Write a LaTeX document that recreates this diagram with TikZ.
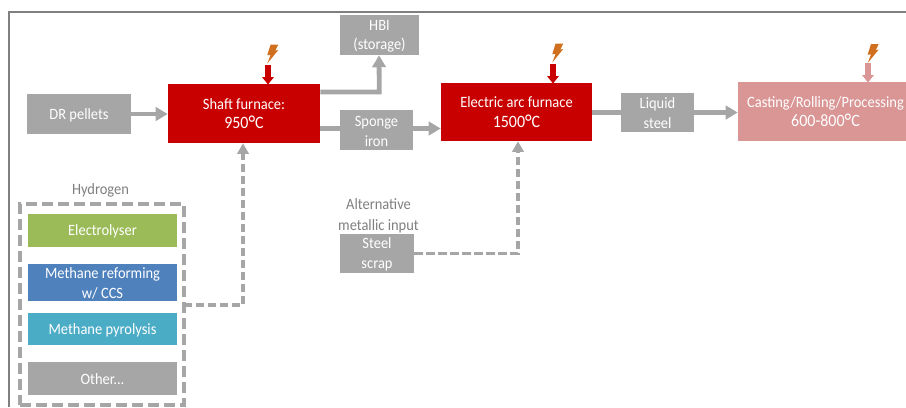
\documentclass[tikz,border=0pt]{standalone}
\usepackage{fontspec}
\setmainfont[FakeStretch=0.92]{Carlito}
\usetikzlibrary{arrows.meta,calc}
\definecolor{grayb}{HTML}{A6A6A6}
\definecolor{redb}{HTML}{C90000}
\definecolor{pinkb}{HTML}{DA9595}
\definecolor{greenb}{HTML}{9BBB59}
\definecolor{blueb}{HTML}{4F81BD}
\definecolor{tealb}{HTML}{4BACC6}
\definecolor{bolt}{HTML}{D0701E}
\definecolor{txt}{HTML}{7F7F7F}
\tikzset{
  x=0.75pt,y=-0.75pt,
  boxn/.style={draw=none,inner sep=0pt,text=white,align=center,font=\fontsize{11.8}{14.8}\selectfont},
  flow/.style={draw=grayb,line width=3.6pt,-{Triangle[length=9pt,width=10pt]}},
  flowplain/.style={draw=grayb,line width=3.6pt},
  flowdash/.style={draw=grayb,line width=2.3pt,dash pattern=on 6.3pt off 2.7pt},
  flowdasharrow/.style={flowdash,-{Triangle[length=8pt,width=8.5pt]}},
  lbl/.style={text=txt,align=center,inner sep=0pt,font=\fontsize{11.8}{15.5}\selectfont},
  power/.style={line width=4.4pt,-{Triangle[length=5.5pt,width=8.5pt]}},
  boltshape/.pic={\fill[bolt] (-1.7,-9.5) -- (6,-9.5) -- (3,-3.3) -- (6,-4) -- (-5,9.5) -- (-1.7,1) -- (-5,1) -- cycle;}
}
\newcommand{\bx}[7]{\node[boxn,fill=#6,minimum width=#4*0.75pt-#2*0.75pt,minimum height=#5*0.75pt-#3*0.75pt] (#1) at ({(#2+#4)/2},{(#3+#5)/2}) {\rule{0pt}{9.5pt}#7};}
\newcommand{\tempr}[1]{{\fontsize{13}{14.8}\selectfont #1{\fontsize{16}{14.8}\selectfont\raisebox{-1.2pt}{°}}C}}
\begin{document}
\begin{tikzpicture}
\useasboundingbox (0,0) rectangle (906,407);
\clip (0,0) rectangle (906,407);
\coordinate (frameA) at (9,407);
\coordinate (frameB) at (9,12);
\coordinate (frameC) at (906,12);
\draw[draw=gray,line width=1.1pt] (frameA) -- (frameB) -- (frameC);
\bx{dr}{27}{94}{131}{134}{grayb}{DR pellets}
\bx{shaft}{168}{84}{320}{143}{redb}{Shaft furnace:\\\tempr{950}}
\bx{hbi}{340}{15}{419}{55}{grayb}{HBI\\(storage)}
\bx{sponge}{340}{110}{413}{150}{grayb}{Sponge\\iron}
\bx{eaf}{441}{83}{592}{141}{redb}{Electric arc furnace\\\tempr{1500}}
\bx{liquid}{621}{93}{694}{132}{grayb}{Liquid\\steel}
\bx{cast}{738}{82}{913}{141}{pinkb}{Casting/Rolling/Processing\\\tempr{600-800}}
\bx{scrap}{340}{234}{414}{273}{grayb}{Steel\\scrap}
\bx{elec}{28}{214}{177}{247}{greenb}{Electrolyser}
\bx{smr}{28}{264}{177}{301}{blueb}{Methane reforming\\w/ CCS}
\bx{pyro}{28}{313}{177}{345}{tealb}{Methane pyrolysis}
\bx{other}{28}{362}{177}{395}{grayb}{Other...}
\node[draw=grayb,line width=2.4pt,dash pattern=on 8pt off 4pt,minimum width=164*0.75pt,minimum height=201*0.75pt,inner sep=0pt,outer sep=0pt] (hbox) at (102,304.5) {};
\node[lbl] (hlab) at (100.5,190.5) {Hydrogen};
\node[lbl] (alt) at (378.5,215.5) {Alternative\\metallic input};
% solid flows
\draw[flow] (dr.east) -- (shaft.west|-dr.east);
\draw[flow] ($(shaft.east)+(0,-21.5)$) -- ++(59,0) -- (hbi.south-|379,55);
\draw[flowplain] (shaft.east|-sponge.west) ++(0,-1.5) -- ($(sponge.west)+(0,-1.5)$);
\draw[flow] ($(sponge.east)+(0,-1.5)$) -- ($(eaf.west)+(0,16.5)$);
\draw[flowplain] (eaf.east|-liquid.west) -- (liquid.west);
\draw[flow] (liquid.east) -- (cast.west|-liquid.east);
% dashed flows
\draw[flowdasharrow] (hbox.east|-0,305) -- (243,305) -- (shaft.south-|243,143);
\draw[flowdasharrow] (scrap.east|-0,253.5) -- (518,253.5) -- (eaf.south-|518,142);
% power
\coordinate (b1) at (268,65); \coordinate (b2) at (553,64); \coordinate (b3) at (868,63);
\draw[power,draw=redb] (b1) -- (268,84.5);
\draw[power,draw=redb] (b2) -- (553,83.5);
\draw[power,draw=pinkb] (b3) -- (868,82.5);
\pic at (272.3,54) {boltshape};
\pic at (557.3,53) {boltshape};
\pic at (872.7,53.5) {boltshape};
\end{tikzpicture}
\end{document}
